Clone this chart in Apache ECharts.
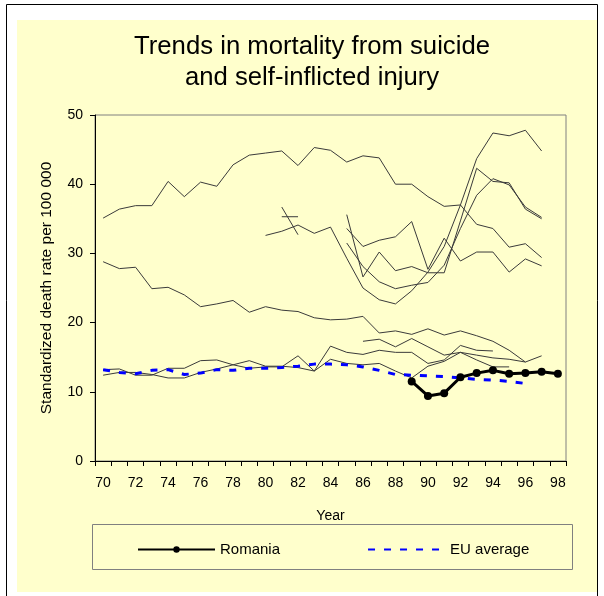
<!DOCTYPE html>
<html>
<head>
<meta charset="utf-8">
<script src="https://cdn.jsdelivr.net/npm/echarts@6/dist/echarts.min.js"></script>
<style>
  html, body { margin: 0; padding: 0; background: #fff; }
  #chart { width: 604px; height: 596px; }
</style>
</head>
<body>
<div id="chart"></div>
<script>
// years 1970..1998
var years = ['70','71','72','73','74','75','76','77','78','79','80','81','82','83','84',
             '85','86','87','88','89','90','91','92','93','94','95','96','97','98'];
var yTicks = [0, 10, 20, 30, 40, 50];

// other countries (thin grey lines), null where no data
var lineA = [35.1, 36.4, 36.9, 36.9, 40.4, 38.2, 40.3, 39.7, 42.8, 44.2, 44.5, 44.8, 42.7, 45.3, 44.9,
             43.2, 44.1, 43.8, 40.0, 40.0, 38.2, 36.8, 37.0, 34.2, 33.6, 30.9, 31.4, 29.4, null];
var lineB = [28.8, 27.8, 28.0, 24.9, 25.1, 24.0, 22.3, 22.7, 23.2, 21.5, 22.3, 21.8, 21.6, 20.7, 20.4,
             20.5, 20.9, 18.5, 18.8, 18.3, 19.1, 18.2, 18.8, 18.1, 17.3, 16.0, 14.3, 15.2, null];
var lineP = [13.2, 13.3, 12.4, 12.4, 13.4, 13.4, 14.5, 14.6, 13.9, 13.4, 13.6, 13.6, 15.2, 13.0, 16.6,
             15.7, 15.4, 16.0, 15.7, 15.7, 14.1, 14.6, 16.7, 16.0, 15.9, null, null, null, null];
var lineQ = [12.4, 12.8, 12.8, 12.5, 12.0, 12.0, 12.8, 13.3, 13.9, 14.5, 13.7, 13.7, 13.5, 13.0, 14.7,
             14.1, 13.9, 14.1, 13.0, 12.0, 13.7, 14.4, 15.7, 14.6, 13.6, 13.6, null, null, null];
var lineC = [null, null, null, null, null, null, null, null, null, null, null, null, null, null, null,
             null, 17.3, 17.6, 16.5, 17.7, 16.5, 15.3, 15.7, 15.3, 14.9, 14.7, 14.3, null, null];
var lineG = [null, null, null, null, null, null, null, null, null, null, 32.6, 33.2, 34.1, 32.9, 33.8,
             29.3, 25.0, 23.3, 22.7, 24.6, 27.3, 31.0, 37.0, 43.7, 47.4, 47.0, 47.8, 44.8, null];
var lineF1 = [null, null, null, null, null, null, null, null, null, null, null, 36.7, 32.7, null, null,
              null, null, null, null, null, null, null, null, null, null, null, null, null, null];
var lineF2 = [null, null, null, null, null, null, null, null, null, null, null, 35.3, 35.3, null, null,
              null, null, null, null, null, null, null, null, null, null, null, null, null, null];
var lineS = [null, null, null, null, null, null, null, null, null, null, null, null, null, null, null,
             35.6, 26.6, 30.2, 27.5, 28.1, 27.2, 27.2, 34.7, 42.3, 40.4, 40.2, 36.4, 35.0, null];
var lineT = [null, null, null, null, null, null, null, null, null, null, null, null, null, null, null,
             31.5, 28.1, 25.9, 24.9, 25.4, 25.8, 28.3, 33.6, 38.4, 40.8, 39.9, 36.7, 35.2, null];
var lineJ = [null, null, null, null, null, null, null, null, null, null, null, null, null, null, null,
             33.6, 31.0, 31.9, 32.4, 34.6, 27.7, 32.2, 28.9, 30.2, 30.2, 27.3, 29.2, 28.2, null];

var euAverage = [13.2, 12.8, 12.6, 13.1, 13.2, 12.5, 12.7, 13.2, 13.1, 13.4, 13.4, 13.5, 13.7, 14.0, 14.0,
                 13.9, 13.6, 13.1, 12.5, 12.4, 12.3, 12.2, 12.0, 11.8, 11.7, 11.5, 11.2, null, null];
var romania = [null, null, null, null, null, null, null, null, null, null, null, null, null, null, null,
               null, null, null, null, 11.5, 9.4, 9.8, 12.1, 12.7, 13.1, 12.6, 12.7, 12.9, 12.6];

var greyLines = [lineA, lineB, lineP, lineQ, lineC, lineG, lineF1, lineF2, lineS, lineT, lineJ];

var font = 'Arial, "Liberation Sans", sans-serif';

var series = greyLines.map(function (d, i) {
  return {
    name: 'other' + i,
    type: 'line',
    data: d,
    symbol: 'none',
    silent: true,
    z: 2,
    lineStyle: { color: '#3a3a3a', width: 1 }
  };
});
series.push({
  name: 'EU average',
  type: 'line',
  data: euAverage,
  symbol: 'none',
  z: 3,
  lineStyle: { color: '#0000ff', width: 3, type: [7, 9] },
  itemStyle: { color: '#0000ff' }
});
series.push({
  name: 'Romania',
  type: 'line',
  data: romania,
  symbol: 'circle',
  symbolSize: 8,
  z: 4,
  lineStyle: { color: '#000', width: 3 },
  itemStyle: { color: '#000' }
});

var chart = echarts.init(document.getElementById('chart'));
chart.setOption({
  backgroundColor: '#fff',
  animation: false,
  title: {
    text: 'Trends in mortality from suicide\nand self-inflicted injury',
    left: 307,
    top: 26,
    textAlign: 'center',
    textStyle: { fontFamily: font, fontSize: 25.7, fontWeight: 'normal', color: '#000', lineHeight: 31 }
  },
  graphic: [
    { type: 'rect', z: -10, shape: { x: 6.5, y: 4.5, width: 591, height: 620 },
      style: { fill: '#fff', stroke: '#000', lineWidth: 1 } },
    { type: 'rect', z: -9, shape: { x: 17, y: 20, width: 580, height: 572 },
      style: { fill: '#ffffcc' } },
    { type: 'rect', z: -8, shape: { x: 92.5, y: 524.5, width: 480, height: 45 },
      style: { fill: 'none', stroke: '#808080', lineWidth: 1 } }
  ],
  legend: {
    data: [
      { name: 'Romania' },
      { name: 'EU average', itemStyle: { opacity: 0 } }
    ],
    left: 132,
    top: 537,
    itemWidth: 77,
    itemHeight: 8,
    itemGap: 87,
    textStyle: { fontFamily: font, fontSize: 15, color: '#000' }
  },
  grid: {
    left: 95, top: 115, right: 38, bottom: 135,
    show: true, borderColor: '#808080', borderWidth: 1, backgroundColor: 'transparent'
  },
  xAxis: {
    type: 'category',
    data: years,
    boundaryGap: true,
    name: 'Year',
    nameLocation: 'middle',
    nameGap: 48,
    nameTextStyle: { fontFamily: font, fontSize: 14, color: '#000' },
    axisLine: { lineStyle: { color: '#000', width: 1 } },
    axisTick: { show: true, interval: 0, length: 5, lineStyle: { color: '#000' } },
    axisLabel: { interval: 1, margin: 15, fontFamily: font, fontSize: 14, color: '#000' },
    splitLine: { show: false }
  },
  yAxis: {
    type: 'value',
    min: yTicks[0],
    max: yTicks[yTicks.length - 1],
    interval: 10,
    name: 'Standardized death rate per 100 000',
    nameLocation: 'middle',
    nameGap: 40,
    nameTextStyle: { fontFamily: font, fontSize: 15.5, color: '#000' },
    axisLine: { show: true, lineStyle: { color: '#000', width: 1 } },
    axisTick: { show: true, length: 5, lineStyle: { color: '#000' } },
    axisLabel: { margin: 12, fontFamily: font, fontSize: 14, color: '#000' },
    splitLine: { show: false }
  },
  series: series
});
</script>
</body>
</html>
